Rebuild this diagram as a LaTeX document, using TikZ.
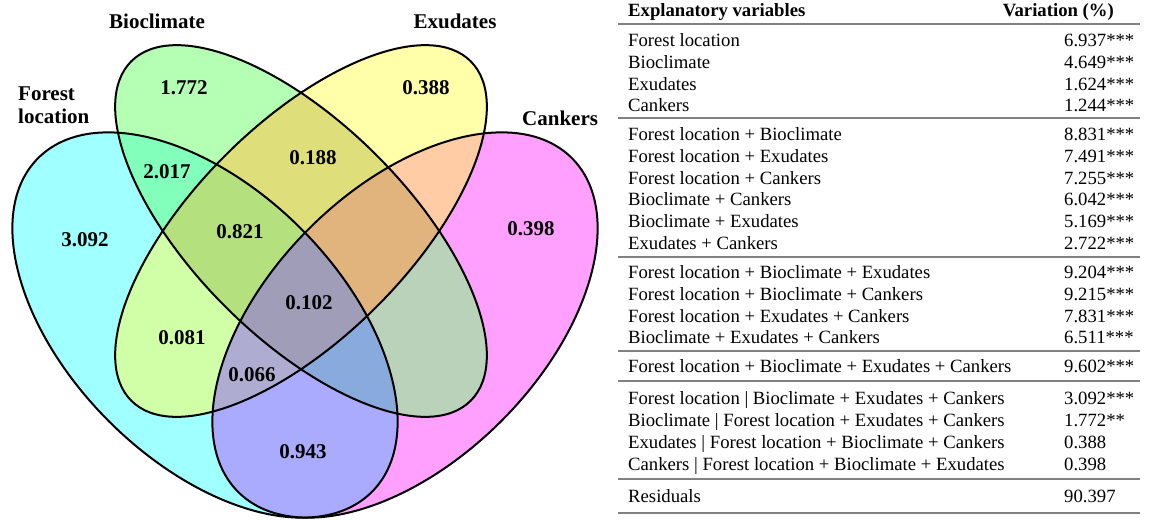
\documentclass[tikz,border=0pt]{standalone}
\usepackage{fontspec}
\setmainfont{Liberation Serif}
\definecolor{colF}{HTML}{A0FFFF}
\definecolor{colB}{HTML}{B4FFB4}
\definecolor{colE}{HTML}{FFFFAA}
\definecolor{colC}{HTML}{FFA0FF}
\definecolor{colFB}{HTML}{82FFBA}
\definecolor{colFE}{HTML}{D0FFA8}
\definecolor{colFC}{HTML}{AAAAFF}
\definecolor{colBE}{HTML}{DEDE7A}
\definecolor{colBC}{HTML}{B9D2B9}
\definecolor{colEC}{HTML}{FFCCA5}
\definecolor{colFBE}{HTML}{B4E17D}
\definecolor{colFBC}{HTML}{88AADC}
\definecolor{colFEC}{HTML}{AFACD2}
\definecolor{colBEC}{HTML}{E1B47D}
\definecolor{colFBEC}{HTML}{A09DB9}
\tikzset{
  eF/.style={shift={(205,325)},rotate=-45},
  eB/.style={shift={(301,231)},rotate=-45},
  eE/.style={shift={(301,231)},rotate=45},
  eC/.style={shift={(405,325)},rotate=45},
  outl/.style={draw=black,line width=2pt},
  vlab/.style={font=\bfseries\fontsize{21}{23}\selectfont,inner sep=0pt},
  trow/.style={font=\fontsize{18.7}{22}\selectfont,inner sep=0pt,anchor=base west},
  thead/.style={font=\bfseries\fontsize{18.7}{22}\selectfont,inner sep=0pt},
  tabrule/.style={draw=black!50,line width=1.3pt},
}
\newcommand\outerE{(0,0) ellipse [x radius=236pt,y radius=136pt]}
\newcommand\innerE{(0,0) ellipse [x radius=240pt,y radius=107pt]}
\newcommand\clipF{\clip[eF] \outerE;}
\newcommand\clipB{\clip[eB] \innerE;}
\newcommand\clipE{\clip[eE] \innerE;}
\newcommand\clipC{\clip[eC] \outerE;}
\newcommand\regfill[1]{\fill[#1] (0,0) rectangle (700,520);}
\begin{document}
\begin{tikzpicture}[x=1pt,y=-1pt]
\useasboundingbox (0,0) rectangle (1150,520);
% single sets
\fill[colF,eF] \outerE;
\fill[colB,eB] \innerE;
\fill[colE,eE] \innerE;
\fill[colC,eC] \outerE;
% pairs
\begin{scope}\clipF\clipB\regfill{colFB}\end{scope}
\begin{scope}\clipF\clipE\regfill{colFE}\end{scope}
\begin{scope}\clipF\clipC\regfill{colFC}\end{scope}
\begin{scope}\clipB\clipE\regfill{colBE}\end{scope}
\begin{scope}\clipB\clipC\regfill{colBC}\end{scope}
\begin{scope}\clipE\clipC\regfill{colEC}\end{scope}
% triples
\begin{scope}\clipF\clipB\clipE\regfill{colFBE}\end{scope}
\begin{scope}\clipF\clipB\clipC\regfill{colFBC}\end{scope}
\begin{scope}\clipF\clipE\clipC\regfill{colFEC}\end{scope}
\begin{scope}\clipB\clipE\clipC\regfill{colBEC}\end{scope}
% all four
\begin{scope}\clipF\clipB\clipE\clipC\regfill{colFBEC}\end{scope}
% outlines
\draw[outl,eF] \outerE;
\draw[outl,eB] \innerE;
\draw[outl,eE] \innerE;
\draw[outl,eC] \outerE;
% set names
\node[vlab,anchor=base] (nB) at (157,28) {Bioclimate};
\node[vlab,anchor=base] (nE) at (455,28) {Exudates};
\node[vlab,anchor=base west] (nF) at (18,100) {\begin{tabular}[t]{@{}l@{}}Forest\\location\end{tabular}};
\node[vlab,anchor=base west] (nC) at (522,125) {Cankers};
% region values
\node[vlab] (r1) at (184,88) {1.772};
\node[vlab] (r2) at (426,88) {0.388};
\node[vlab] (r3) at (167,172) {2.017};
\node[vlab] (r4) at (313,158) {0.188};
\node[vlab] (r5) at (85,240) {3.092};
\node[vlab] (r6) at (240,232) {0.821};
\node[vlab] (r7) at (531,229) {0.398};
\node[vlab] (r8) at (309,303) {0.102};
\node[vlab] (r9) at (182,338) {0.081};
\node[vlab] (r10) at (252,375) {0.066};
\node[vlab] (r11) at (303,452) {0.943};
% table
\node[thead,anchor=base west] (h1) at (628,16) {Explanatory variables};
\node[thead,anchor=base east] (h2) at (1114,16) {Variation (\%)};
\foreach \y in {24,118,257,351,381,479,513}
  \draw[tabrule] (618,\y) -- (1140,\y);
\foreach \y/\t/\v [count=\i] in {
  46/Forest location/6.937***,
  68/Bioclimate/4.649***,
  90/Exudates/1.624***,
  111/Cankers/1.244***,
  140/Forest location + Bioclimate/8.831***,
  162/Forest location + Exudates/7.491***,
  184/Forest location + Cankers/7.255***,
  205/Bioclimate + Cankers/6.042***,
  227/Bioclimate + Exudates/5.169***,
  249/Exudates + Cankers/2.722***,
  278/Forest location + Bioclimate + Exudates/9.204***,
  300/Forest location + Bioclimate + Cankers/9.215***,
  322/Forest location + Exudates + Cankers/7.831***,
  343/Bioclimate + Exudates + Cankers/6.511***,
  372/Forest location + Bioclimate + Exudates + Cankers/9.602***,
  404/Forest location | Bioclimate + Exudates + Cankers/3.092***,
  426/Bioclimate | Forest location + Exudates + Cankers/1.772**,
  448/Exudates | Forest location + Bioclimate + Cankers/0.388,
  470/Cankers | Forest location + Bioclimate + Exudates/0.398,
  502/Residuals/90.397}
{
  \node[trow] (lab\i) at (628,\y) {\t};
  \node[trow] (val\i) at (1064,\y) {\v};
}
\end{tikzpicture}
\end{document}
